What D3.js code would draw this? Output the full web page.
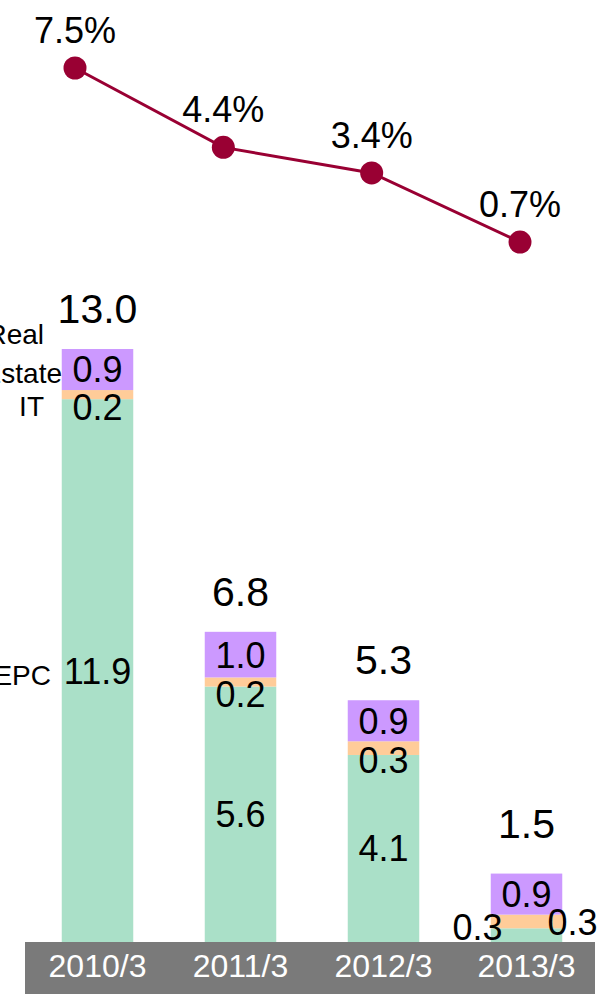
<!DOCTYPE html>
<html>
<head>
<meta charset="utf-8">
<script src="https://cdn.jsdelivr.net/npm/d3@7"></script>
<style>
  body { margin: 0; background: #fff; }
  svg { display: block; font-family: "Liberation Sans", Arial, sans-serif; }
</style>
</head>
<body>
<svg width="606" height="994"></svg>
<script>
const categories = ['2010/3', '2011/3', '2012/3', '2013/3'];
const rates = [7.5, 4.4, 3.4, 0.7];
const epc = [11.9, 5.6, 4.1, 0.3];
const it = [0.2, 0.2, 0.3, 0.3];
const realEstate = [0.9, 1.0, 0.9, 0.9];
const totals = [13.0, 6.8, 5.3, 1.5];

const svg = d3.select('svg');
const width = +svg.attr('width');
const height = +svg.attr('height');

const colors = {epc: '#aae0c8', it: '#ffcc99', re: '#cc99ff'};

// bars
const xScale = d3.scaleBand()
  .domain(categories)
  .range([26, 598])
  .paddingInner(0.5)
  .paddingOuter(0.25);

const yScale = d3.scaleLinear()
  .domain([0, 13])
  .range([942, 349]);

const table = categories.map((c, i) => ({
  cat: c, epc: epc[i], it: it[i], re: realEstate[i], total: totals[i]
}));
const keys = ['epc', 'it', 're'];
const stacked = d3.stack().keys(keys)(table);

const barsG = svg.append('g');
barsG.selectAll('g.layer')
  .data(stacked)
  .join('g')
    .attr('class', 'layer')
    .attr('fill', d => colors[d.key])
  .selectAll('rect')
  .data(d => d)
  .join('rect')
    .attr('x', d => xScale(d.data.cat))
    .attr('y', d => yScale(d[1]))
    .attr('width', xScale.bandwidth())
    .attr('height', d => yScale(d[0]) - yScale(d[1]));

// segment labels
const labelG = svg.append('g')
  .attr('font-size', 36)
  .attr('text-anchor', 'middle')
  .attr('fill', '#000');

stacked.forEach(layer => {
  layer.forEach((d, i) => {
    const cx = xScale(d.data.cat) + xScale.bandwidth() / 2;
    let cy = (yScale(d[0]) + yScale(d[1])) / 2;
    let x = cx;
    if (layer.key === 'it') cy += 12;
    // last bar is too thin, labels sit beside it
    if (i === 3 && layer.key === 'epc') { x = cx - 49; cy = yScale(d[1]) - 1; }
    if (i === 3 && layer.key === 'it') { x = cx + 46; cy = yScale(d[0]) - 6; }
    labelG.append('text')
      .attr('x', x)
      .attr('y', cy)
      .attr('dy', '0.36em')
      .text(d3.format('.1f')(d.data[layer.key]));
  });
});

// totals
svg.append('g')
  .selectAll('text')
  .data(table)
  .join('text')
    .attr('x', d => xScale(d.cat) + xScale.bandwidth() / 2)
    .attr('y', (d, i) => yScale(d.total) - (i === 3 ? 36 : 26))
    .attr('text-anchor', 'middle')
    .attr('font-size', 41)
    .text(d => d3.format('.1f')(d.total));

// category band
const [r0, r1] = xScale.range();
svg.append('rect')
  .attr('x', r0 - 1)
  .attr('y', yScale(0))
  .attr('width', r1 - r0 - 2)
  .attr('height', height - yScale(0))
  .attr('fill', '#7a7a7a');

const xAxis = d3.axisBottom(xScale).tickSize(0).tickPadding(12);
const xAxisG = svg.append('g')
  .attr('transform', `translate(0, ${yScale(0)})`)
  .call(xAxis);
xAxisG.select('.domain').remove();
xAxisG.selectAll('text')
  .attr('fill', '#fff')
  .attr('font-size', 32)
  .attr('font-family', '"Liberation Sans", Arial, sans-serif');

// left legend labels (cut by the left edge as in the original)
const first = stacked.map(l => l[0]);
const legend = svg.append('g').attr('font-size', 28).attr('text-anchor', 'end');
legend.append('text').attr('x', 44).attr('y', yScale(first[2][1]) - 5).text('Real');
legend.append('text').attr('x', 62).attr('y', yScale(first[2][1]) + 34).text('Estate');
legend.append('text').attr('x', 44).attr('y', yScale(first[1][0]) + 17).text('IT');
legend.append('text').attr('x', 51).attr('y', (yScale(first[0][0]) + yScale(first[0][1])) / 2 + 14).text('EPC');

// line chart
const lx = d3.scalePoint().domain(categories).range([75, 520]);
const ly = d3.scaleLinear().domain([0, 7.5]).range([260, 68]);

const lineGenerator = d3.line()
  .x((d, i) => lx(categories[i]))
  .y(d => ly(d));

svg.append('path')
  .attr('d', lineGenerator(rates))
  .attr('fill', 'none')
  .attr('stroke', '#990033')
  .attr('stroke-width', 3);

svg.append('g')
  .selectAll('circle')
  .data(rates)
  .join('circle')
    .attr('cx', (d, i) => lx(categories[i]))
    .attr('cy', d => ly(d))
    .attr('r', 11.5)
    .attr('fill', '#990033');

svg.append('g')
  .selectAll('text')
  .data(rates)
  .join('text')
    .attr('x', (d, i) => lx(categories[i]))
    .attr('y', d => ly(d) - 25)
    .attr('text-anchor', 'middle')
    .attr('font-size', 36)
    .text(d => d3.format('.1f')(d) + '%');
</script>
</body>
</html>
